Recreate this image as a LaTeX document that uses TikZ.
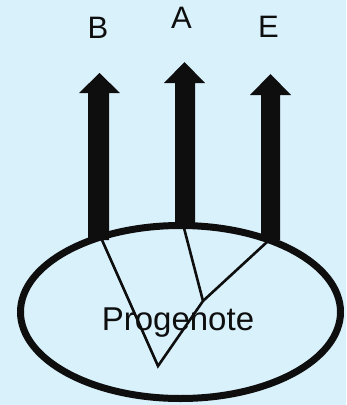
\documentclass[tikz,border=0pt]{standalone}
\usepackage{fontspec}
\setmainfont{Liberation Sans}
\usetikzlibrary{shapes.geometric}
\definecolor{bgblue}{HTML}{D9F1FB}
\definecolor{ink}{HTML}{0E0E0E}
\tikzset{
  lbl/.style={font=\fontsize{31}{31}\selectfont, text=ink, anchor=base, inner sep=0pt},
  bigarrow/.style={fill=ink, draw=none},
  branch/.style={draw=ink, line width=2.6pt, line join=miter},
  cell/.style={draw=ink, line width=7pt, ellipse, minimum width=320pt, minimum height=173pt, inner sep=0pt},
}
\begin{document}
\begin{tikzpicture}[x=1pt,y=-1pt]
\useasboundingbox[fill=bgblue] (0,0) rectangle (346,405);
% arrows
\fill[bigarrow] (88,240) -- (88,93) -- (79,93) -- (99.5,73) -- (120,93) -- (109,93) -- (109,240) -- cycle;
\fill[bigarrow] (175,228) -- (175,83) -- (164,83) -- (184.5,62) -- (205,83) -- (195,83) -- (195,228) -- cycle;
\fill[bigarrow] (261,240) -- (261,95) -- (250,95) -- (270.5,74) -- (291,95) -- (280,95) -- (280,240) -- cycle;
% labels
\node[lbl] (B) at (98,38) {B};
\node[lbl] (A) at (181.5,28) {A};
\node[lbl] (E) at (268.5,37) {E};
% cell
\node[cell] (cell) at (180.5,312) {};
\node[font=\fontsize{33}{33}\selectfont, text=ink, anchor=base, inner sep=0pt] (prog) at (178,330) {Progenote};
% tree
\coordinate (root) at (158,366);
\coordinate (jn) at (203,301);
\coordinate (lb) at (102,240);
\coordinate (ma) at (184,228);
\coordinate (re) at (267,242);
\draw[branch] (lb) -- (root) -- (jn) -- (re);
\draw[branch] (ma) -- (jn);
\end{tikzpicture}
\end{document}
